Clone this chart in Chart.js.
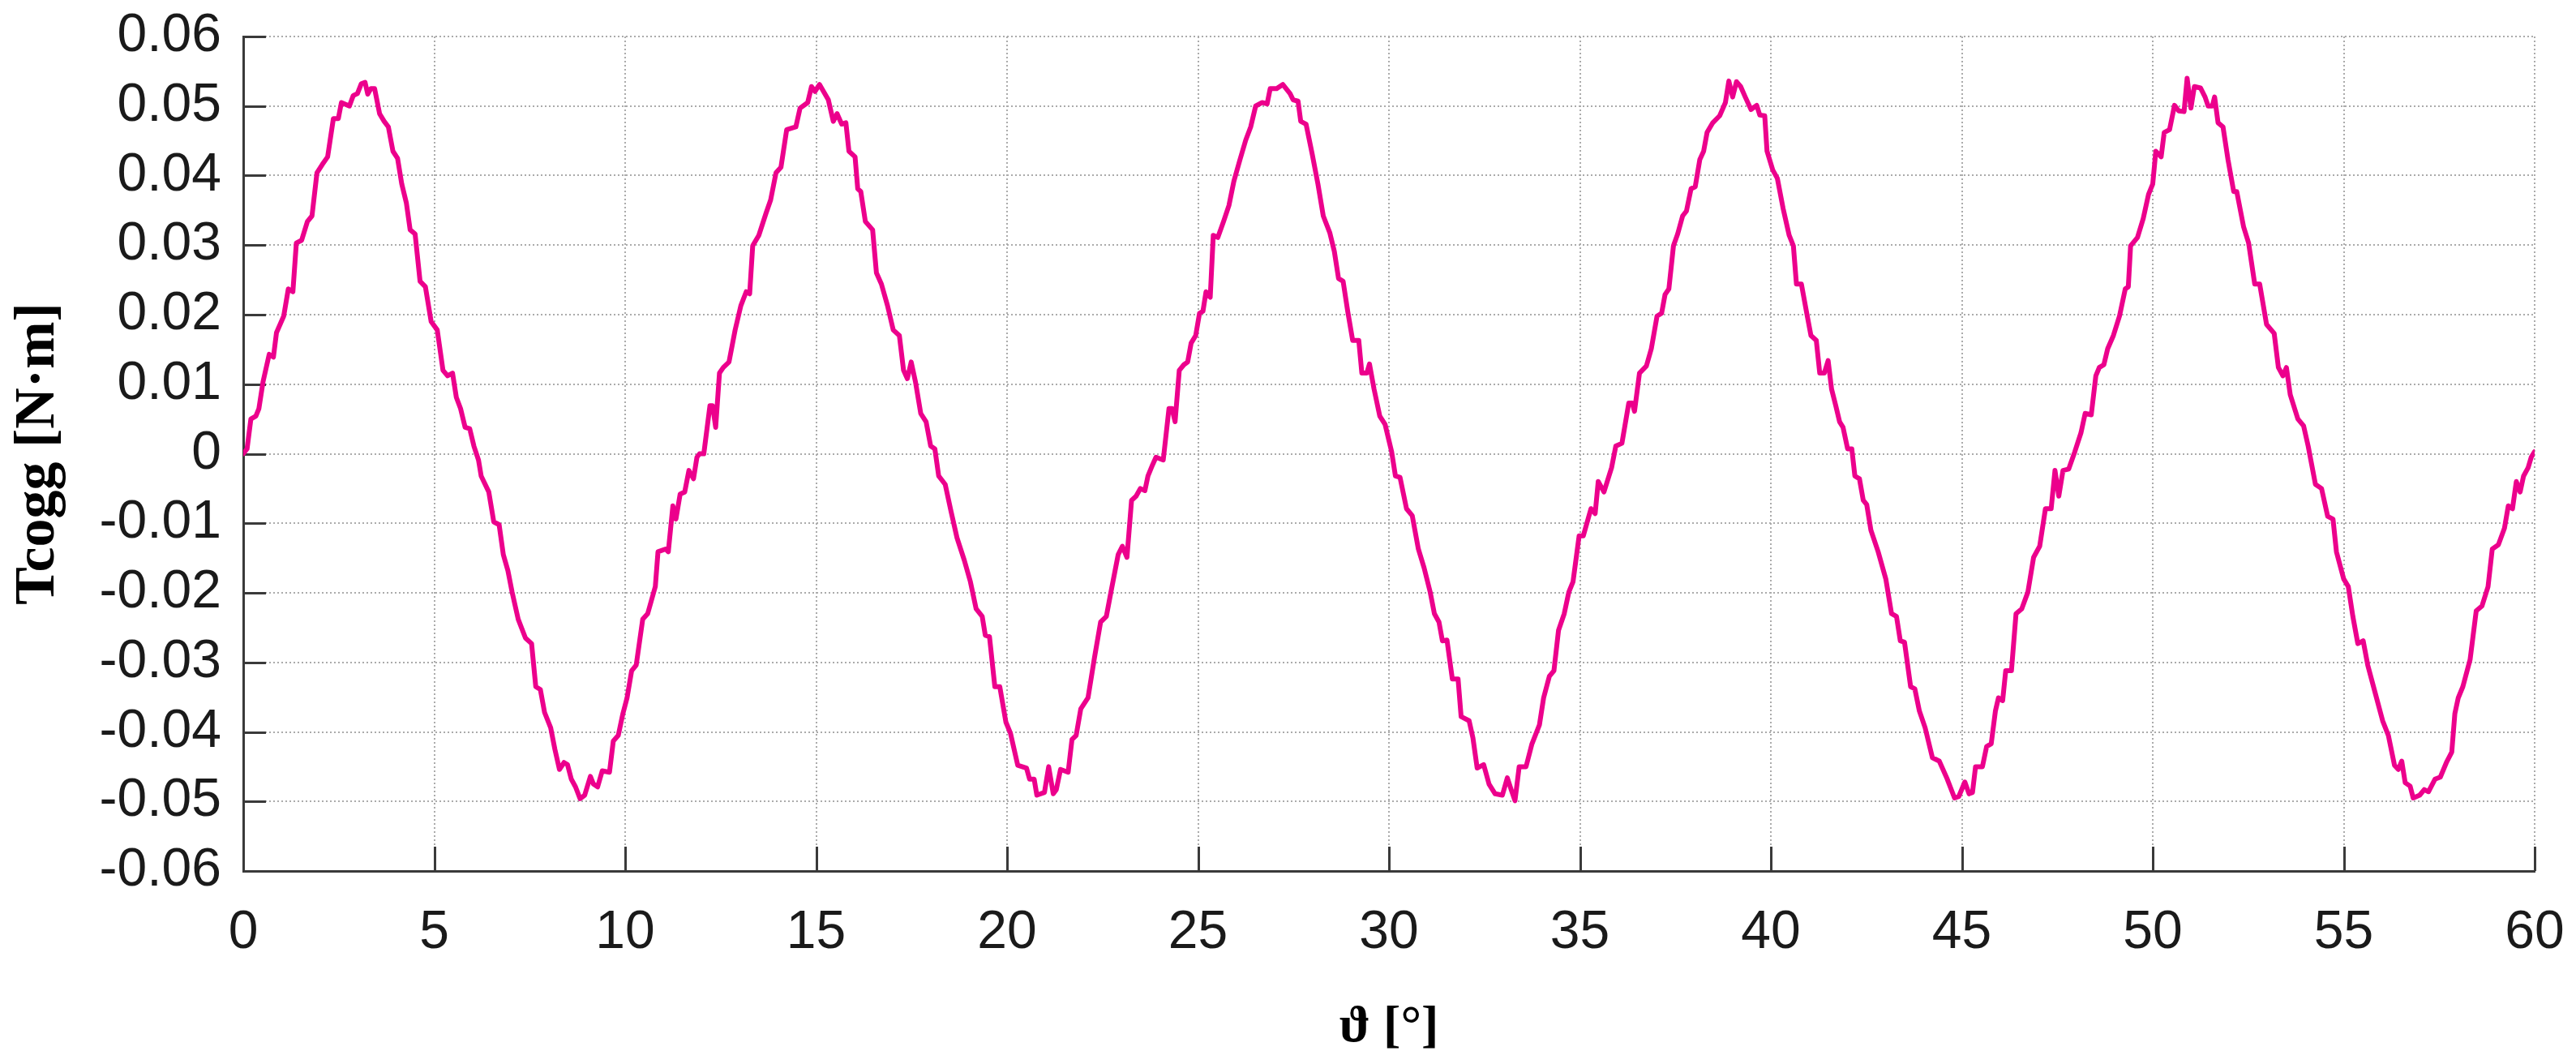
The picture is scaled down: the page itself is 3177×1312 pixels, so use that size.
<!DOCTYPE html>
<html>
<head>
<meta charset="utf-8">
<script src="https://cdn.jsdelivr.net/npm/chart.js@4.4.1/dist/chart.umd.min.js"></script>
<style>
html,body{margin:0;padding:0;background:#ffffff;}
#wrap{width:3177px;height:1312px;}
</style>
</head>
<body>
<div id="wrap"><canvas id="c" width="3177" height="1312"></canvas></div>
<script>
// Rotor angle [deg] vs cogging torque [N·m], one array per 12° period
const period1 = [[0,0.0000],[0.10,0.0007],[0.20,0.0050],[0.33,0.0054],[0.41,0.0065],[0.52,0.0104],[0.68,0.0143],[0.79,0.0139],[0.87,0.0174],[1.06,0.0198],[1.18,0.0237],[1.30,0.0233],[1.39,0.0303],[1.53,0.0307],[1.68,0.0334],[1.80,0.0342],[1.93,0.0404],[2.07,0.0416],[2.21,0.0427],[2.36,0.0482],[2.49,0.0482],[2.57,0.0505],[2.78,0.0500],[2.88,0.0515],[2.99,0.0518],[3.09,0.0532],[3.19,0.0534],[3.26,0.0517],[3.34,0.0525],[3.44,0.0525],[3.57,0.0489],[3.69,0.0478],[3.80,0.0470],[3.92,0.0435],[4.04,0.0425],[4.15,0.0388],[4.27,0.0361],[4.37,0.0322],[4.50,0.0316],[4.63,0.0248],[4.77,0.0240],[4.92,0.0190],[5.08,0.0178],[5.23,0.0120],[5.35,0.0112],[5.48,0.0116],[5.58,0.0081],[5.69,0.0065],[5.81,0.0038],[5.93,0.0036],[6.04,0.0011],[6.16,-0.0009],[6.23,-0.0032],[6.43,-0.0055],[6.56,-0.0098],[6.70,-0.0102],[6.81,-0.0145],[6.93,-0.0168],[7.04,-0.0199],[7.20,-0.0238],[7.39,-0.0265],[7.55,-0.0273],[7.66,-0.0335],[7.78,-0.0339],[7.89,-0.0372],[8.05,-0.0394],[8.16,-0.0425],[8.28,-0.0454],[8.40,-0.0444],[8.49,-0.0447],[8.59,-0.0468],[8.70,-0.0479],[8.82,-0.0496],[8.94,-0.0491],[9.09,-0.0464],[9.17,-0.0475],[9.28,-0.0479],[9.40,-0.0456],[9.59,-0.0458],[9.69,-0.0413],[9.82,-0.0405],[9.94,-0.0374],[10.05,-0.0351],[10.17,-0.0312],[10.29,-0.0304],[10.46,-0.0238],[10.59,-0.0230],[10.79,-0.0191],[10.86,-0.0141],[11.06,-0.0137],[11.13,-0.0141],[11.25,-0.0075],[11.33,-0.0094],[11.44,-0.0058],[11.56,-0.0055],[11.67,-0.0024],[11.79,-0.0036],[11.88,-0.0005]];
const period2 = [[11.95,0.0000],[12.06,0.0000],[12.22,0.0069],[12.29,0.0069],[12.37,0.0038],[12.47,0.0116],[12.57,0.0124],[12.72,0.0132],[12.88,0.0178],[13.03,0.0213],[13.17,0.0233],[13.26,0.0230],[13.34,0.0299],[13.50,0.0314],[13.69,0.0346],[13.81,0.0365],[13.95,0.0404],[14.08,0.0412],[14.23,0.0466],[14.47,0.0470],[14.58,0.0497],[14.78,0.0505],[14.88,0.0528],[14.97,0.0521],[15.09,0.0531],[15.32,0.0509],[15.45,0.0478],[15.55,0.0489],[15.67,0.0474],[15.78,0.0476],[15.86,0.0435],[16.02,0.0427],[16.09,0.0381],[16.17,0.0377],[16.29,0.0334],[16.48,0.0322],[16.58,0.0260],[16.71,0.0244],[16.87,0.0213],[17.02,0.0178],[17.18,0.0170],[17.29,0.0120],[17.39,0.0108],[17.49,0.0132],[17.60,0.0104],[17.74,0.0058],[17.88,0.0046],[18.00,0.0011],[18.11,0.0007],[18.21,-0.0032],[18.38,-0.0044],[18.53,-0.0082],[18.69,-0.0121],[18.88,-0.0153],[19.04,-0.0184],[19.19,-0.0223],[19.35,-0.0234],[19.43,-0.0261],[19.54,-0.0263],[19.68,-0.0335],[19.81,-0.0335],[19.97,-0.0386],[20.09,-0.0402],[20.28,-0.0448],[20.51,-0.0452],[20.59,-0.0468],[20.71,-0.0468],[20.78,-0.0491],[20.98,-0.0487],[21.09,-0.0450],[21.21,-0.0489],[21.29,-0.0483],[21.40,-0.0454],[21.60,-0.0458],[21.70,-0.0411],[21.81,-0.0405],[21.93,-0.0367],[22.12,-0.0351],[22.29,-0.0293],[22.45,-0.0242],[22.60,-0.0234],[22.72,-0.0199],[22.91,-0.0145],[23.02,-0.0133],[23.14,-0.0149],[23.26,-0.0067],[23.38,-0.0061],[23.49,-0.0050],[23.61,-0.0053],[23.69,-0.0032],[23.81,-0.0016],[23.90,-0.0005]];
const period3 = [[24.09,-0.0009],[24.24,0.0065],[24.32,0.0065],[24.40,0.0046],[24.51,0.0120],[24.63,0.0128],[24.73,0.0132],[24.82,0.0159],[24.94,0.0170],[25.04,0.0202],[25.13,0.0205],[25.21,0.0233],[25.32,0.0225],[25.40,0.0314],[25.52,0.0311],[25.67,0.0334],[25.81,0.0357],[25.94,0.0392],[26.10,0.0423],[26.25,0.0451],[26.38,0.0470],[26.51,0.0500],[26.68,0.0505],[26.81,0.0503],[26.89,0.0525],[27.06,0.0525],[27.22,0.0531],[27.41,0.0518],[27.49,0.0509],[27.62,0.0507],[27.69,0.0478],[27.83,0.0474],[27.99,0.0431],[28.14,0.0388],[28.28,0.0342],[28.45,0.0318],[28.57,0.0291],[28.68,0.0252],[28.80,0.0248],[28.92,0.0205],[29.05,0.0163],[29.21,0.0163],[29.29,0.0116],[29.42,0.0116],[29.49,0.0129],[29.61,0.0093],[29.76,0.0054],[29.90,0.0042],[30.00,0.0019],[30.07,0.0003],[30.17,-0.0032],[30.29,-0.0034],[30.46,-0.0079],[30.61,-0.0089],[30.77,-0.0137],[30.92,-0.0164],[31.08,-0.0199],[31.19,-0.0230],[31.31,-0.0242],[31.40,-0.0269],[31.52,-0.0268],[31.66,-0.0324],[31.81,-0.0324],[31.89,-0.0378],[32.10,-0.0384],[32.20,-0.0409],[32.31,-0.0452],[32.48,-0.0447],[32.62,-0.0475],[32.78,-0.0489],[32.97,-0.0491],[33.10,-0.0466],[33.20,-0.0483],[33.30,-0.0499],[33.41,-0.0450],[33.59,-0.0450],[33.74,-0.0418],[33.94,-0.0390],[34.05,-0.0351],[34.20,-0.0320],[34.32,-0.0312],[34.44,-0.0254],[34.59,-0.0230],[34.71,-0.0199],[34.82,-0.0184],[34.98,-0.0118],[35.09,-0.0118],[35.29,-0.0079],[35.40,-0.0086],[35.48,-0.0040],[35.63,-0.0055],[35.83,-0.0020],[35.94,0.0011]];
const period4 = [[36.10,0.0015],[36.28,0.0073],[36.37,0.0073],[36.43,0.0061],[36.56,0.0116],[36.74,0.0126],[36.87,0.0151],[37.02,0.0198],[37.14,0.0202],[37.23,0.0229],[37.33,0.0237],[37.45,0.0299],[37.56,0.0316],[37.69,0.0342],[37.79,0.0349],[37.91,0.0381],[38.02,0.0384],[38.14,0.0423],[38.24,0.0435],[38.33,0.0462],[38.48,0.0476],[38.66,0.0486],[38.81,0.0505],[38.90,0.0536],[39.00,0.0513],[39.10,0.0535],[39.21,0.0528],[39.33,0.0513],[39.48,0.0495],[39.63,0.0501],[39.71,0.0487],[39.84,0.0486],[39.90,0.0435],[40.05,0.0408],[40.17,0.0396],[40.32,0.0353],[40.48,0.0314],[40.59,0.0299],[40.67,0.0244],[40.80,0.0244],[40.94,0.0202],[41.05,0.0170],[41.19,0.0163],[41.28,0.0116],[41.40,0.0116],[41.50,0.0134],[41.59,0.0093],[41.70,0.0069],[41.80,0.0046],[41.89,0.0038],[42.01,0.0007],[42.12,0.0007],[42.20,-0.0032],[42.32,-0.0036],[42.42,-0.0067],[42.51,-0.0073],[42.62,-0.0110],[42.81,-0.0141],[43.01,-0.0180],[43.16,-0.0230],[43.29,-0.0234],[43.39,-0.0269],[43.50,-0.0271],[43.66,-0.0335],[43.77,-0.0338],[43.89,-0.0370],[44.04,-0.0394],[44.23,-0.0437],[44.41,-0.0442],[44.62,-0.0468],[44.81,-0.0495],[44.92,-0.0493],[45.08,-0.0472],[45.19,-0.0489],[45.28,-0.0487],[45.36,-0.0450],[45.54,-0.0450],[45.65,-0.0421],[45.77,-0.0417],[45.88,-0.0370],[45.96,-0.0351],[46.07,-0.0355],[46.15,-0.0312],[46.30,-0.0312],[46.42,-0.0230],[46.57,-0.0223],[46.73,-0.0199],[46.88,-0.0149],[47.04,-0.0133],[47.19,-0.0079],[47.34,-0.0079],[47.44,-0.0024],[47.54,-0.0061],[47.65,-0.0024],[47.80,-0.0022]];
const period5 = [[47.96,0.0003],[48.12,0.0030],[48.23,0.0058],[48.39,0.0056],[48.51,0.0112],[48.60,0.0124],[48.72,0.0128],[48.82,0.0151],[48.97,0.0170],[49.13,0.0198],[49.28,0.0237],[49.36,0.0240],[49.42,0.0299],[49.60,0.0311],[49.75,0.0338],[49.89,0.0373],[50.00,0.0388],[50.08,0.0435],[50.22,0.0427],[50.30,0.0462],[50.44,0.0466],[50.57,0.0501],[50.68,0.0493],[50.82,0.0492],[50.90,0.0540],[51.00,0.0497],[51.09,0.0528],[51.25,0.0526],[51.37,0.0513],[51.45,0.0500],[51.56,0.0500],[51.62,0.0513],[51.71,0.0476],[51.84,0.0470],[51.97,0.0423],[52.12,0.0377],[52.20,0.0377],[52.38,0.0326],[52.51,0.0303],[52.67,0.0244],[52.80,0.0244],[52.98,0.0186],[53.18,0.0173],[53.29,0.0124],[53.41,0.0112],[53.50,0.0124],[53.60,0.0085],[53.80,0.0050],[53.95,0.0040],[54.07,0.0011],[54.26,-0.0044],[54.42,-0.0050],[54.58,-0.0090],[54.72,-0.0094],[54.81,-0.0141],[55.00,-0.0180],[55.12,-0.0191],[55.24,-0.0234],[55.37,-0.0273],[55.51,-0.0269],[55.63,-0.0304],[55.82,-0.0343],[56.02,-0.0384],[56.17,-0.0405],[56.33,-0.0448],[56.43,-0.0454],[56.52,-0.0442],[56.61,-0.0473],[56.74,-0.0478],[56.82,-0.0495],[56.99,-0.0491],[57.11,-0.0483],[57.22,-0.0486],[57.39,-0.0468],[57.53,-0.0465],[57.69,-0.0444],[57.83,-0.0429],[57.91,-0.0374],[58.00,-0.0351],[58.12,-0.0335],[58.31,-0.0296],[58.47,-0.0226],[58.62,-0.0219],[58.78,-0.0191],[58.89,-0.0137],[59.05,-0.0131],[59.21,-0.0107],[59.31,-0.0075],[59.42,-0.0079],[59.52,-0.0040],[59.62,-0.0055],[59.71,-0.0032],[59.83,-0.0020],[59.91,-0.0005],[60.00,0.0003]];

const xTickValues = [0,5,10,15,20,25,30,35,40,45,50,55,60];
const xTickLabels = ['0','5','10','15','20','25','30','35','40','45','50','55','60'];
const yTickValues = [-0.06,-0.05,-0.04,-0.03,-0.02,-0.01,0,0.01,0.02,0.03,0.04,0.05,0.06];
const yTickLabels = ['-0.06','-0.05','-0.04','-0.03','-0.02','-0.01','0','0.01','0.02','0.03','0.04','0.05','0.06'];

const xTitle = 'ϑ [°]';
const yTitle = 'Tcogg [N·m]';

const points = [].concat(period1, period2, period3, period4, period5).map(p => ({x: p[0], y: p[1]}));

const AXIS_COLOR = '#3a3a3a';
const GRID_COLOR = '#ababab';

const innerTicks = {
  id: 'innerTicks',
  beforeDatasetsDraw(chart) {
    const {ctx, chartArea: a, scales: {x, y}} = chart;
    ctx.save();
    ctx.strokeStyle = AXIS_COLOR;
    ctx.lineWidth = 3;
    ctx.beginPath();
    y.ticks.forEach(t => {
      const py = Math.round(y.getPixelForValue(t.value)) + 0.5;
      ctx.moveTo(a.left, py);
      ctx.lineTo(a.left + 28, py);
    });
    x.ticks.forEach(t => {
      const px = Math.round(x.getPixelForValue(t.value)) + 0.5;
      ctx.moveTo(px, a.bottom);
      ctx.lineTo(px, a.bottom - 30);
    });
    ctx.stroke();
    ctx.restore();
  }
};

new Chart(document.getElementById('c'), {
  type: 'line',
  data: {
    datasets: [{
      data: points,
      borderColor: '#EC008C',
      borderWidth: 6,
      pointRadius: 0,
      tension: 0,
      borderJoinStyle: 'round',
      borderCapStyle: 'round',
      fill: false
    }]
  },
  options: {
    responsive: false,
    animation: false,
    devicePixelRatio: 1,
    layout: {padding: {top: 45, right: 51, bottom: 0, left: 0}},
    plugins: {legend: {display: false}, tooltip: {enabled: false}},
    scales: {
      x: {
        type: 'linear',
        min: 0,
        max: 60,
        afterBuildTicks: s => { s.ticks = xTickValues.map(v => ({value: v})); },
        afterFit: s => { s.height = 238; s.paddingLeft = 0; s.paddingRight = 0; },
        grid: {color: GRID_COLOR, lineWidth: 2, drawTicks: false},
        border: {display: true, color: AXIS_COLOR, width: 3, dash: [2, 3]},
        ticks: {
          autoSkip: false,
          maxRotation: 0,
          padding: 37,
          color: '#1a1a1a',
          font: {family: "'Liberation Sans', Arial, sans-serif", size: 66},
          callback: (v, i) => xTickLabels[i]
        },
        title: {
          display: true,
          text: xTitle,
          color: '#000000',
          font: {family: "'Liberation Serif', 'DejaVu Serif', serif", size: 64, weight: 'bold'},
          padding: {top: 0, bottom: 6}
        }
      },
      y: {
        type: 'linear',
        min: -0.06,
        max: 0.06,
        afterBuildTicks: s => { s.ticks = yTickValues.map(v => ({value: v})); },
        afterFit: s => { s.width = 300; s.paddingTop = 0; s.paddingBottom = 0; },
        grid: {color: GRID_COLOR, lineWidth: 2, drawTicks: false},
        border: {display: true, color: AXIS_COLOR, width: 3, dash: [2, 3]},
        ticks: {
          autoSkip: false,
          padding: 27,
          color: '#1a1a1a',
          font: {family: "'Liberation Sans', Arial, sans-serif", size: 66},
          callback: (v, i) => yTickLabels[i]
        },
        title: {
          display: true,
          text: yTitle,
          color: '#000000',
          font: {family: "'Liberation Serif', 'DejaVu Serif', serif", size: 70, weight: 'bold'},
          padding: {top: 6, bottom: 0}
        }
      }
    }
  },
  plugins: [innerTicks]
});
</script>
</body>
</html>
